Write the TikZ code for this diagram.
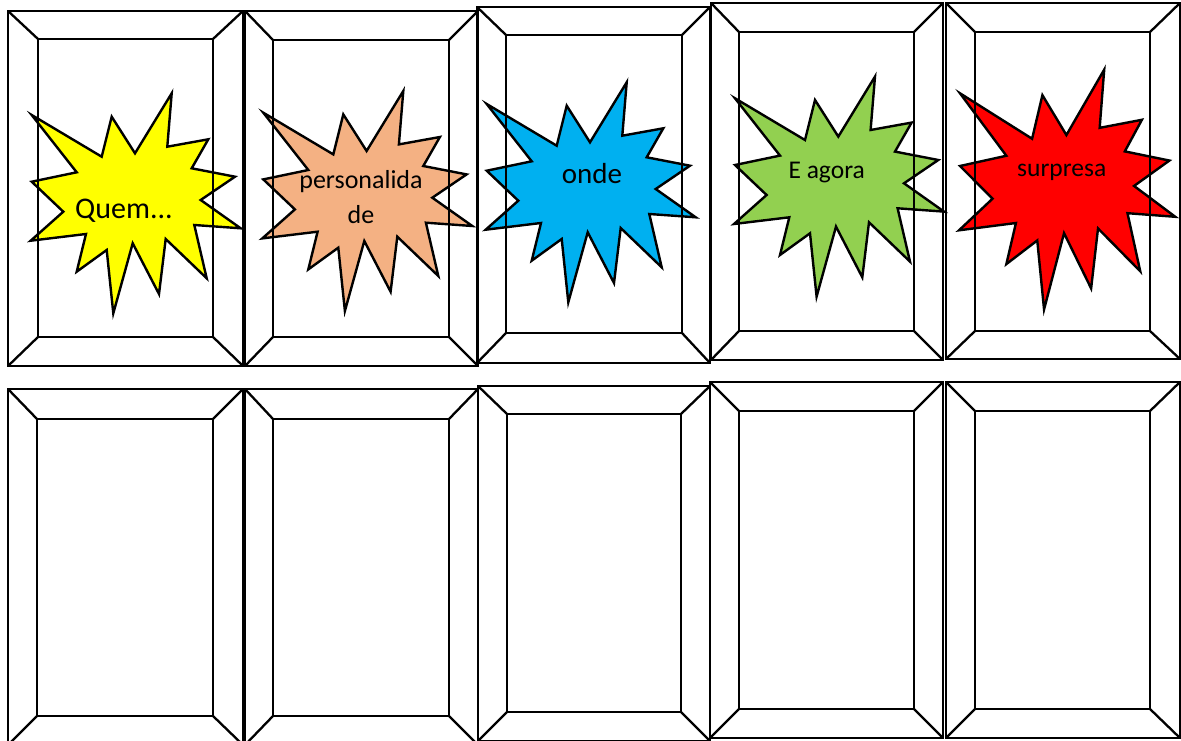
\documentclass[tikz,border=0pt]{standalone}
\usepackage{fontspec}
\setmainfont{Carlito}
\definecolor{burstY}{HTML}{FFFF00}
\definecolor{burstO}{HTML}{F4B183}
\definecolor{burstB}{HTML}{00B0F0}
\definecolor{burstG}{HTML}{92D050}
\definecolor{burstR}{HTML}{FF0000}
% explosion outline, measured from its upper left tip
\newcommand\burstshape{(0,0) -- (70,41.7) -- (80,1.7) -- (103.3,38.3) -- (140,-21.7)
  -- (135.6,31.7) -- (176.6,24.3) -- (160,53.3) -- (203.3,61.7) -- (169,85)
  -- (209,113.3) -- (162.6,110) -- (175,163.3) -- (134,124) -- (127.3,179)
  -- (101,128.3) -- (81.6,198.3) -- (75,135) -- (45,156.7) -- (54.3,119)
  -- (-1,125.7) -- (31.6,96.7) -- (0,66.7) -- (45,57.3) -- cycle}

\begin{document}
\begin{tikzpicture}[
  x=1pt, y=-1pt,
  frameline/.style={draw=black, line width=2.3pt},
  burst/.style={fill=#1, draw=black, line width=2.4pt, miter limit=6},
  lbl/.style={font=\fontsize{#1}{#1}\selectfont, inner sep=0pt, text=black}
]
\useasboundingbox (0,0) rectangle (1181,741);
\clip (0,0) rectangle (1181,741);

%% ═══ EXPLOSÕES ═══
\foreach \bx/\by/\sx/\sy/\col in {31.7/115/1/1/burstY, 263.3/112.7/1/1/burstO,
    486.7/104/1/1/burstB, 735/98.3/1/1/burstG, 960/93.3/1.03/1.09/burstR}
  \draw[burst=\col, shift={(\bx,\by)}, xscale=\sx, yscale=\sy] \burstshape;

%% ═══ MOLDURAS ═══
\foreach \ax/\ay/\bx/\by/\cx/\cy/\dx/\dy in {
    8/11/243/366/38/39/213/337, 245/11/478/366/273/40/449/337,
    477/7/710/363/506/35/682/333, 711/3/943/360/739/32/914/331,
    946/3/1180/359/975/32/1150/331,
    8/389/243/745/37/419/213/716, 245/389/478/745/273/419/449/716,
    478/386/710/741/507/414/681/712, 710/382/943/738/739/411/914/709,
    946/382/1180/738/975/411/1150/709}
{
  \draw[frameline] (\ax,\ay) rectangle (\bx,\by);
  \draw[frameline] (\cx,\cy) rectangle (\dx,\dy);
  \draw[frameline] (\ax,\ay) -- (\cx,\cy) (\bx,\ay) -- (\dx,\cy)
    (\ax,\by) -- (\cx,\dy) (\bx,\by) -- (\dx,\dy);
}

%% ═══ TEXTOS ═══
\node[lbl=30, anchor=base] (quem) at (124,218) {Quem...};
\node[lbl=26, align=center, font=\fontsize{26}{35}\selectfont] (perso) at (361,197)
  {personalida\\de};
\node[lbl=29, anchor=base] (onde) at (592,183.3) {onde};
\node[lbl=25.5, anchor=base] (agora) at (826.7,178.3) {E agora};
\node[lbl=25.5, anchor=base] (surpresa) at (1061.7,176.7) {surpresa};

\end{tikzpicture}
\end{document}
